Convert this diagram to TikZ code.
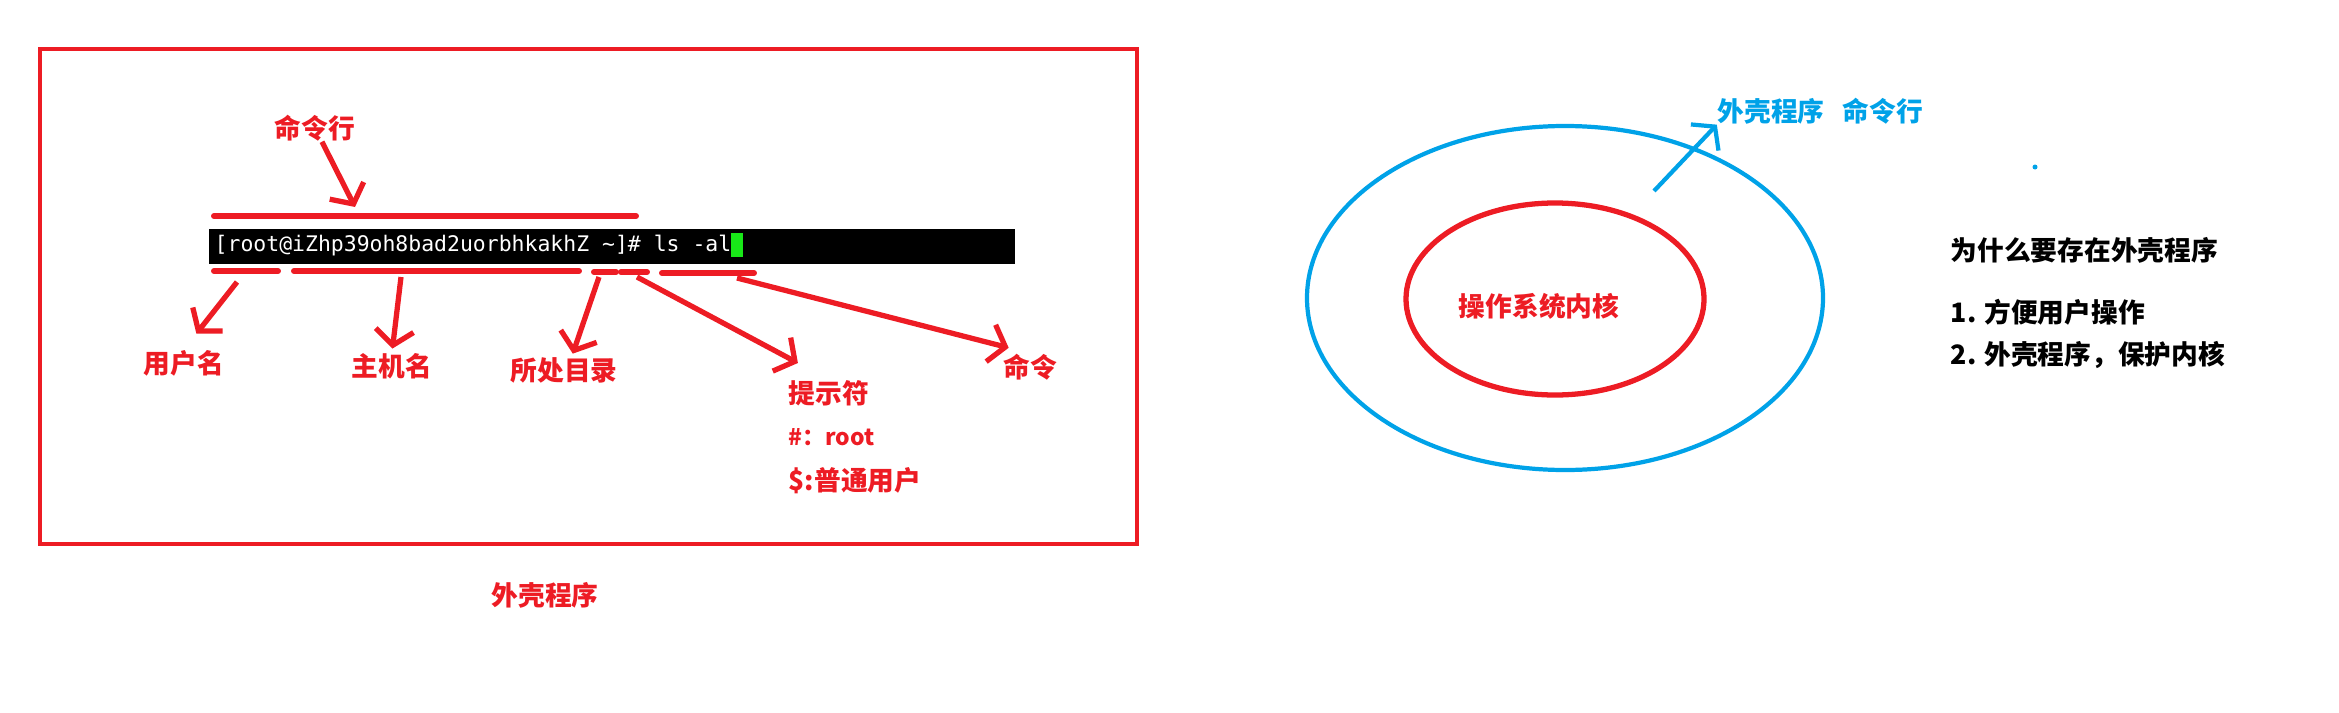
\documentclass[tikz,border=0pt]{standalone}
\usepackage{fontspec}
\setmainfont{Noto Sans CJK SC}
\newfontfamily\termfont{DejaVu Sans Mono}
\usetikzlibrary{arrows.meta}
\definecolor{pred}{RGB}{237,28,36}
\definecolor{pblue}{RGB}{0,162,232}
\definecolor{pgreen}{RGB}{24,232,24}
\tikzset{
  lbl/.style={inner sep=0pt,text=pred,font=\fontsize{7.6}{9}\selectfont\bfseries},
  note/.style={inner sep=0pt,anchor=west,font=\fontsize{7.6}{9}\selectfont\bfseries},
  redarr/.style={draw=pred,line width=1.5pt,-{Straight Barb[length=0.15cm,width=0.38cm]}},
  bluearr/.style={draw=pblue,line width=1.2pt,-{Straight Barb[length=0.15cm,width=0.38cm]}},
  uline/.style={draw=pred,line width=1.7pt,line cap=round}
}
\begin{document}
\begin{tikzpicture}[x=0.01cm,y=-0.01cm]
\useasboundingbox (0,0) rectangle (2339,712);
\draw[draw=pred,line width=1.4pt] (40,49) rectangle (1137,544);
\node [fill=black,name=term,minimum width=8.06cm,minimum height=0.35cm,inner sep=0pt] at (612,246.5){};
\node [anchor=west,text=white,inner sep=0pt,font=\fontsize{6.1}{7}\termfont,name=cmd] at (214,246){[root@iZhp39oh8bad2uorbhkakhZ \textasciitilde]\# ls -al};
\node [fill=pgreen,name=cur,minimum width=0.12cm,minimum height=0.24cm,inner sep=0pt] at (737,245){};
\draw[uline] (214,216)--(636,216);
\draw[uline] (214,271)--(278,271);
\draw[uline] (294,271)--(579,271);
\draw[uline] (594,272)--(616,272);
\draw[uline] (621,272)--(647,272);
\draw[uline] (662,273)--(754,273);
\node [lbl,name=mlh] at (315,128){命令行};
\node [lbl,name=yhm] at (184,363){用户名};
\node [lbl,name=zjm] at (392,366){主机名};
\node [lbl,name=sczl] at (564,370){所处目录};
\node [lbl,name=tsf,anchor=west] at (788,393){提示符};
\node [lbl,name=rootp,anchor=west,font=\fontsize{6.5}{8}\selectfont\bfseries] at (788,437){\#：root};
\node [lbl,name=userp,anchor=west] at (788,481){\$:普通用户};
\node [lbl,name=ml] at (1030,367){命令};
\node [lbl,name=shell] at (545,595){外壳程序};
\coordinate (t0) at (355,207);
\coordinate (s1) at (237,282);
\coordinate (s2) at (401,277);
\coordinate (s3) at (599,277);
\coordinate (s4) at (637,277);
\coordinate (s5) at (737,278);
\draw[redarr] (mlh)--(t0);
\draw[redarr,shorten >=0.2cm] (s1)--(yhm.north);
\draw[redarr,shorten >=0.04cm] (s2)--(zjm.north);
\draw[redarr,shorten >=0.03cm] (s3)--(sczl.60);
\draw[redarr,shorten >=0.35cm] (s4)--(tsf.north);
\draw[redarr,shorten >=0.22cm] (s5)--(ml.north);
\draw[pblue,line width=1.2pt] (1565,298) ellipse [x radius=258,y radius=172];
\draw[pred,line width=1.5pt] (1555,299) ellipse [x radius=149,y radius=96];
\node [lbl,name=kernel] at (1539,306){操作系统内核};
\node [lbl,text=pblue,name=wkm] at (1771,111){外壳程序};
\node [lbl,text=pblue,name=mlh2] at (1883,111){命令行};
\coordinate (s6) at (1654,191);
\draw[bluearr] (s6)--(wkm.south west);
\fill[pblue] (2035,167) circle [radius=2.5];
\node [note,name=why] at (1950,250){为什么要存在外壳程序};
\node [note,name=why1] at (1950,312){1. 方便用户操作};
\node [note,name=why2] at (1950,355){2. 外壳程序，保护内核};
\end{tikzpicture}
\end{document}
